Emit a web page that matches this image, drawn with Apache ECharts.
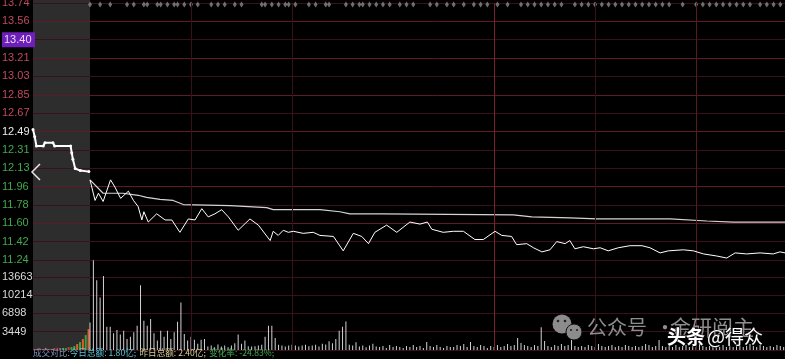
<!DOCTYPE html>
<html><head><meta charset="utf-8">
<script src="https://cdn.jsdelivr.net/npm/echarts@6/dist/echarts.min.js"></script>
<style>html,body{margin:0;padding:0;background:#000;}#c{width:785px;height:359px;}</style>
</head><body><div id="c"></div>
<script>
// ---------- data ----------
const prevClose = 12.49;
const priceMin = 11.241, priceMax = 13.739;
const priceTicks = ['11.24','11.42','11.60','11.78','11.96','12.13','12.31','12.49','12.67','12.85','13.03','13.21','13.40','13.56','13.74'];
const cursorTickIndex = 12;
const volTicks = ['', '3449', '6898', '10214', '13663'];
const volStep = 3449, volMax = 16960;
const visibleMinutes = 206.4;

// call auction (minutes after 9:15), price
const auctionLine = [[0,12.51],[0.3,12.44],[0.6,12.35],[1.8,12.35],[2.1,12.38],[3.5,12.38],[3.8,12.35],[6.6,12.35],[6.8,12.28],[7.0,12.22],[7.4,12.13],[8.3,12.11],[9.8,12.10]];
const auctionVol = [190,190,190,190,370,190,190,370,190,370,370,370,560,560,750,1120,1500,2060,2810,3930];
const auctionDir = [1,1,1,1,1,1,1,1,1,1,-1,-1,1,-1,-1,1,-1,1,-1,1];

// continuous session (minutes after 9:30), price
const priceLine = [[0,12.02],[1.5,11.82],[2.5,11.89],[3.9,11.81],[6.1,12.02],[7.4,11.95],[9.1,11.84],[11.4,11.91],[12.9,11.82],[14.3,11.76],[15.4,11.63],[16.0,11.71],[17.3,11.61],[19.8,11.69],[22.3,11.63],[24.3,11.63],[26.7,11.51],[29.2,11.64],[31.2,11.63],[33.2,11.74],[35.1,11.66],[37.1,11.69],[39.1,11.73],[41.1,11.66],[44.0,11.53],[47.5,11.64],[50.0,11.58],[53.5,11.43],[54.4,11.52],[55.9,11.48],[57.4,11.53],[58.9,11.51],[60.4,11.52],[63.3,11.50],[66.3,11.51],[68.3,11.48],[72.3,11.47],[75.2,11.33],[78.2,11.50],[80.7,11.47],[82.7,11.40],[84.6,11.51],[88.1,11.58],[91.1,11.51],[95.0,11.61],[98.0,11.59],[100.2,11.61],[101.5,11.54],[104.9,11.51],[107.9,11.52],[110.9,11.52],[114.3,11.44],[116.8,11.44],[120.3,11.52],[122.3,11.48],[125.2,11.47],[126.7,11.39],[129.7,11.40],[131.7,11.36],[134.2,11.32],[136.6,11.34],[138.6,11.42],[141.1,11.40],[142.5,11.43],[144.0,11.35],[146.5,11.37],[149.5,11.35],[151.5,11.36],[153.9,11.33],[156.9,11.36],[160.4,11.38],[163.9,11.38],[166.3,11.36],[169.3,11.31],[171.8,11.33],[176.2,11.34],[179.2,11.33],[182.2,11.30],[186.1,11.28],[189.1,11.26],[191.6,11.31],[195.0,11.30],[199.0,11.31],[202.9,11.30],[204.9,11.32],[206.4,11.31]];
const avgLine = [[0,12.02],[3.9,11.89],[9.8,11.89],[14.3,11.87],[16.8,11.85],[20.8,11.83],[24.7,11.82],[27.7,11.78],[41.6,11.77],[52.5,11.75],[54.4,11.73],[68.3,11.73],[74.2,11.71],[77.2,11.69],[86.6,11.69],[125.7,11.68],[131.2,11.66],[142.6,11.65],[150.5,11.64],[172.3,11.64],[183.2,11.62],[191.1,11.61],[206.4,11.61]];

// per-minute volume, minute 0..206
const volMain = [5200,16900,13130,9870,13930,4390,4390,3140,3780,2900,
3650,2090,2520,3330,4580,12190,5520,4580,5830,3140,
1780,3650,2520,3650,2090,3330,5330,8940,3030,1780,
2520,1910,1160,1910,2090,650,840,520,1030,650,
840,520,840,1270,2900,1160,1780,710,650,710,
840,970,2520,4580,4580,2280,970,840,650,840,
970,840,650,840,970,710,840,970,650,1160,
1030,1650,1270,2090,3650,4390,5390,970,840,1460,
650,840,520,840,1160,650,
560,750,370,940,560,750,560,370,750,560,940,560,750,370,
1500,750,560,940,560,370,750,560,560,940,750,1120,560,1500,
750,560,940,750,370,750,560,940,560,750,1120,750,940,
2240,1310,940,750,560,940,750,4300,1680,750,560,940,750,1120,
750,940,1870,750,560,750,560,940,750,560,1120,750,560,750,940,
560,750,560,940,750,560,750,560,750,1120,940,560,750,1870,750,
560,750,560,940,560,750,940,560,750,560,1310,750,560,750,560,
750,560,940,560,750,560,940,750,560,750,1120,750,560,940,750,560,750,560,940,750,560];

const sessionLines = [30, 60, 120, 150, 180];
const middayMinute = 120;
const eventMinutes = [0,3,6,11,13,16,17,20,21,23,25,26,28,30,32,36,38,40,43,45,51,52,54,56,58,59,61,65,67,70,71,76,78,80,81,83,85,87,89,92,94,96,101,103,106,108,111,114,116,118,121,124,128,130,132,134,136,138,140,144,146,148,150,152,154,156,158,160,162,164,166,168,170,172,176,180,182,184,186,188,190,192,194,196,199,201,203,205];

const todayTotal = '1.80亿', yesterdayTotal = '2.40亿', changeRate = '-24.83%';

// ---------- chart ----------
const chart = echarts.init(document.getElementById('c'));
const FONT = '"Liberation Sans", Arial, "Noto Sans CJK SC", sans-serif';
const bright = [0,2,4,7,9,11,13];
const priceSplitColors = priceTicks.map((_, i) => bright.indexOf(i) >= 0 ? '#5e1a26' : '#3a1118');

function vLines(){
  return sessionLines.map(m => ({xAxis: m, lineStyle: {color: m === middayMinute ? '#7a2232' : (m === 180 ? '#551a24' : '#3a1118'), width: 1, type: 'solid'}}));
}

const option = {
  backgroundColor: '#000',
  animation: false,
  grid: [
    {left: 33, width: 57, top: 3, height: 257, outerBoundsMode: 'none'},
    {left: 90, right: 0, top: 3, height: 257, outerBoundsMode: 'none'},
    {left: 33, width: 57, top: 260, height: 90, outerBoundsMode: 'none'},
    {left: 90, right: 0, top: 260, height: 90, outerBoundsMode: 'none'}
  ],
  xAxis: [
    {type: 'value', gridIndex: 0, min: 0, max: 10, show: false},
    {type: 'value', gridIndex: 1, min: 0, max: visibleMinutes, show: false},
    {type: 'value', gridIndex: 2, min: 0, max: 10, show: false},
    {type: 'value', gridIndex: 3, min: 0, max: visibleMinutes, show: false}
  ],
  yAxis: [
    {type: 'value', gridIndex: 0, min: priceMin, max: priceMax, show: false},
    {type: 'value', gridIndex: 0, min: 0, max: 14, interval: 1, position: 'left',
      axisLine: {show: false}, axisTick: {show: false},
      splitLine: {show: true, lineStyle: {color: priceSplitColors, width: 1}},
      axisLabel: {show: true, align: 'left', margin: 31, fontFamily: FONT, fontSize: 11,
        formatter: function(v){
          const i = Math.round(v); const t = priceTicks[i];
          if (t === undefined) return '';
          if (i === cursorTickIndex) return '{h|' + t + '}';
          if (i === 7) return '{w|' + t + '}';
          return (i > 7 ? '{r|' : '{g|') + t + '}';
        },
        rich: {
          r: {color: '#c24a5c', fontSize: 11, fontFamily: FONT},
          g: {color: '#42a94c', fontSize: 11, fontFamily: FONT},
          w: {color: '#ececec', fontSize: 11, fontFamily: FONT},
          h: {color: '#e8d8f4', fontSize: 11, fontFamily: FONT, backgroundColor: '#6e1fba', padding: [2, 3, 2, 2], width: 28}
        }
      }
    },
    {type: 'value', gridIndex: 1, min: priceMin, max: priceMax, show: false},
    {type: 'value', gridIndex: 1, min: 0, max: 14, interval: 1,
      axisLine: {show: false}, axisTick: {show: false}, axisLabel: {show: false},
      splitLine: {show: true, lineStyle: {color: priceSplitColors, width: 1}}
    },
    {type: 'value', gridIndex: 2, min: 0, max: volMax, interval: volStep, position: 'left',
      axisLine: {show: false}, axisTick: {show: false},
      splitLine: {show: true, lineStyle: {color: '#3a1118', width: 1}},
      axisLabel: {show: true, align: 'left', margin: 31, color: '#dadada', fontFamily: FONT, fontSize: 11,
        formatter: function(v){ const t = volTicks[Math.round(v / volStep)]; return (t === undefined || Math.abs(v/volStep - Math.round(v/volStep)) > 0.01) ? '' : t; }
      }
    },
    {type: 'value', gridIndex: 3, min: 0, max: volMax, interval: volStep,
      axisLine: {show: false}, axisTick: {show: false}, axisLabel: {show: false},
      splitLine: {show: true, lineStyle: {color: '#3a1118', width: 1}}
    }
  ],
  series: [
    {type: 'bar', xAxisIndex: 2, yAxisIndex: 4, barWidth: 2,
      data: auctionVol.map((v, i) => ({value: [i * 0.5 + 0.25, v], itemStyle: {color: auctionDir[i] > 0 ? (i > 14 ? '#e0602a' : '#c23a2c') : '#3aa046'}}))
    },
    {type: 'line', xAxisIndex: 0, yAxisIndex: 0, data: auctionLine, showSymbol: true, symbol: 'circle', symbolSize: 3,
      itemStyle: {color: '#ffffff'}, lineStyle: {color: '#ffffff', width: 2}, z: 5},
    {type: 'line', xAxisIndex: 1, yAxisIndex: 2, data: avgLine, showSymbol: false,
      lineStyle: {color: '#d4d4d4', width: 1.2}, z: 4},
    {type: 'line', xAxisIndex: 1, yAxisIndex: 2, data: priceLine, showSymbol: false,
      lineStyle: {color: '#ffffff', width: 1}, z: 5,
      markLine: {silent: true, symbol: ['none', 'none'], label: {show: false}, animation: false, data: vLines()}
    },
    {type: 'scatter', xAxisIndex: 1, yAxisIndex: 2, symbol: 'diamond', symbolSize: [4, 6],
      itemStyle: {color: '#8a8a8a'}, data: eventMinutes.map(m => [m, priceMax - 0.015])},
    {type: 'bar', xAxisIndex: 3, yAxisIndex: 5, barWidth: 1,
      itemStyle: {color: '#d2d2d2'},
      data: volMain.map((v, m) => [m, v]),
      markLine: {silent: true, symbol: ['none', 'none'], label: {show: false}, animation: false, data: vLines()}
    }
  ],
  graphic: [
    {type: 'rect', z: -1, shape: {x: 33, y: 0, width: 57, height: 350}, style: {fill: '#2d2d2d'}},
    {type: 'polyline', z: 10, shape: {points: [[40, 164], [32, 172], [40, 180]]}, style: {stroke: '#e6e6e6', lineWidth: 1.5, fill: null}},
    {type: 'text', z: 10, x: 33, y: 353, style: {
      text: '{a|成交对比:}{b|今日总额: ' + todayTotal + ';} {c|昨日总额: ' + yesterdayTotal + ';} {d|变化率: ' + changeRate + ';}',
      verticalAlign: 'middle', textVerticalAlign: 'middle',
      rich: {
        a: {fill: '#7f9cc4', color: '#7f9cc4', fontSize: 8.6, fontFamily: '"Noto Sans CJK SC", sans-serif'},
        b: {fill: '#5cc6d6', color: '#5cc6d6', fontSize: 8.6, fontFamily: '"Noto Sans CJK SC", sans-serif'},
        c: {fill: '#d8cf98', color: '#d8cf98', fontSize: 8.6, fontFamily: '"Noto Sans CJK SC", sans-serif'},
        d: {fill: '#3fae55', color: '#3fae55', fontSize: 8.6, fontFamily: '"Noto Sans CJK SC", sans-serif'}
      }
    }},
    {type: 'circle', z: 10, shape: {cx: 562, cy: 324, r: 9.5}, style: {fill: '#8c8c8c'}},
    {type: 'circle', z: 11, shape: {cx: 574, cy: 332, r: 8}, style: {fill: '#8c8c8c', stroke: '#111', lineWidth: 1}},
    {type: 'circle', z: 12, shape: {cx: 558, cy: 321, r: 1.3}, style: {fill: '#222'}},
    {type: 'circle', z: 12, shape: {cx: 565, cy: 321, r: 1.3}, style: {fill: '#222'}},
    {type: 'circle', z: 12, shape: {cx: 571, cy: 330, r: 1.1}, style: {fill: '#222'}},
    {type: 'circle', z: 12, shape: {cx: 577, cy: 330, r: 1.1}, style: {fill: '#222'}},
    {type: 'text', z: 10, x: 587, y: 327, style: {text: '公众号', fill: '#8e8e8e', font: '20px "Noto Sans CJK SC"', verticalAlign: 'middle', textVerticalAlign: 'middle'}},
    {type: 'text', z: 10, x: 655, y: 327, style: {text: '·', fill: '#8e8e8e', font: '20px "Noto Sans CJK SC"', verticalAlign: 'middle', textVerticalAlign: 'middle'}},
    {type: 'text', z: 10, x: 670, y: 327, style: {text: '金研阅主', fill: '#8e8e8e', font: '21px "Noto Sans CJK SC"', verticalAlign: 'middle', textVerticalAlign: 'middle'}},
    {type: 'text', z: 13, x: 667, y: 337, style: {text: '头条', fill: '#ffffff', font: 'bold 19px "Noto Sans CJK SC"', verticalAlign: 'middle', textVerticalAlign: 'middle', stroke: '#111', lineWidth: 1}},
    {type: 'text', z: 13, x: 707, y: 337, style: {text: '@得众', fill: '#ffffff', font: '19px "Noto Sans CJK SC"', verticalAlign: 'middle', textVerticalAlign: 'middle', stroke: '#111', lineWidth: 1}}
  ]
};
chart.setOption(option);
</script>
</body></html>
